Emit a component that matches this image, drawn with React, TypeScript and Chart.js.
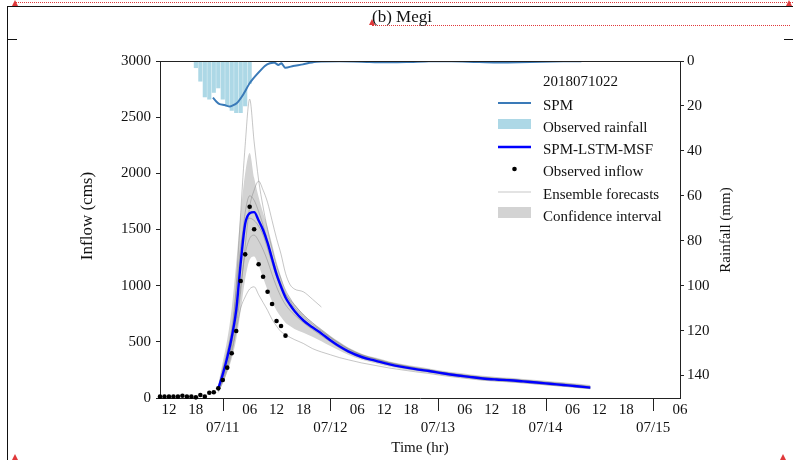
import React, { useEffect, useRef } from "react";
import { Chart, registerables } from "chart.js";

Chart.register(...registerables);

const FONT = '"Liberation Serif", "Times New Roman", Times, serif';

const chartTitle = "(b) Megi";
const legendTitle = "2018071022";
const xAxisTitle = "Time (hr)";
const yAxisTitle = "Inflow (cms)";
const y2AxisTitle = "Rainfall (mm)";

// hours counted from 07/10 00:00
const xTickHours = [12, 18, 24, 30, 36, 42, 48, 54, 60, 66, 72, 78, 84, 90, 96, 102, 108, 114, 120, 126];
const dayHours = [24, 48, 72, 96, 120];
const dayLabels = ["07/11", "07/12", "07/13", "07/14", "07/15"];
const inflowTicks = [0, 500, 1000, 1500, 2000, 2500, 3000];
const rainTicks = [0, 20, 40, 60, 80, 100, 120, 140];

const rainHours = [18, 19, 20, 21, 22, 23, 24, 25, 26, 27, 28, 29, 30];
const rainfall = [3, 9, 16, 17, 14, 12, 17, 20, 22, 23, 23, 20, 10];

const spmHours = [21.8, 22.6, 23.3, 24.4, 25.6, 27.1, 28.5, 30, 31.5, 33.4, 34.5, 35.6, 36.4, 37.1, 37.9, 39.7, 41.9, 43.4, 44.9, 50, 55, 60, 65, 70, 75, 80, 85, 90, 95, 100, 104];
const spmValues = [16.3, 18.1, 19.2, 19.6, 20.3, 18.8, 15.1, 9.9, 6.2, 2.2, 1.0, 0.8, 1.8, 1.0, 3.0, 2.2, 1.5, 0.8, 0.3, 0.1, 0.3, 0.6, 0.5, 0.1, 0.1, 0.4, 0.7, 0.6, 0.3, 0.1, 0.1];

const obsHours = [10, 11, 12, 13, 14, 15, 16, 17, 18, 19, 20, 21, 22, 23, 24, 25, 26, 27, 28, 29, 30, 31, 32, 33, 34, 35, 36, 37, 38];
const obsInflow = [12, 12, 12, 12, 12, 20, 12, 12, 6, 27, 12, 47, 51, 86, 160, 270, 398, 596, 1042, 1279, 1703, 1502, 1190, 1080, 946, 837, 685, 641, 555];

const fcHours = [23, 24, 25, 26, 27, 28, 29, 30, 31, 32, 33, 34, 35, 36, 37, 38, 39, 40, 42, 44, 46, 48, 50, 52, 55, 58, 61, 64, 67, 70, 73, 76, 79, 82, 85, 88, 91, 94, 97, 100, 103, 106];
const spmLstm = [86, 210, 360, 540, 780, 1200, 1550, 1645, 1655, 1580, 1495, 1380, 1240, 1100, 990, 895, 830, 775, 690, 630, 575, 514, 460, 415, 365, 333, 302, 277, 257, 240, 220, 203, 188, 174, 165, 158, 148, 138, 127, 116, 105, 92];
const ciUpper = [120, 320, 520, 800, 1200, 1650, 2000, 2180, 1960, 1790, 1650, 1520, 1370, 1210, 1080, 960, 890, 830, 740, 665, 610, 555, 500, 450, 395, 360, 328, 302, 282, 263, 243, 226, 211, 197, 188, 180, 170, 160, 150, 140, 128, 116];
const ciLower = [55, 130, 230, 350, 520, 780, 1060, 1230, 1260, 1180, 1070, 960, 860, 780, 720, 670, 640, 615, 580, 545, 505, 462, 422, 385, 340, 310, 280, 257, 238, 222, 202, 186, 171, 157, 148, 141, 131, 121, 110, 100, 90, 78];

const ens1 = [60, 160, 280, 500, 1000, 1650, 2250, 2660, 2280, 1940, 1700, 1500, 1330, 1180, 1060, 960, 890, 830, 740, 670, 610, 545, 490, 440, 385, 350, 318, 292, 270, 252, 232, 214, 200, 186, 177, 170, 160, 150, 140, 130, 118, 104];
const ens2 = [70, 170, 290, 430, 640, 950, 1350, 1700, 1850, 1930, 1850, 1740, 1580, 1420, 1280, 1110, 1010, 970, 945, 880, 810, null, null, null, null, null, null, null, null, null, null, null, null, null, null, null, null, null, null, null, null, null];
const ens3 = [50, 140, 250, 400, 600, 800, 900, 970, 990, 920, 850, 780, 700, 640, 590, 565, 540, 520, 485, 440, 410, 385, 360, 340, 312, 290, 268, 250, 233, 218, 200, 185, 171, 158, 150, 143, 134, 124, 114, 104, 94, 83];
const ens4 = [80, 230, 390, 580, 860, 1300, 1650, 1800, 1760, 1660, 1540, 1400, 1260, 1130, 1020, 930, 860, 805, 720, 655, 595, 535, 478, 430, 378, 344, 312, 286, 265, 247, 227, 210, 195, 181, 172, 165, 155, 145, 134, 123, 111, 98];
const ens5 = [70, 190, 320, 480, 700, 1000, 1280, 1420, 1450, 1400, 1320, 1220, 1100, 990, 900, 830, 780, 740, 670, 610, 555, 500, 448, 405, 356, 325, 295, 270, 250, 233, 213, 196, 181, 167, 158, 151, 141, 131, 120, 110, 99, 87];
const ens6 = [90, 260, 420, 620, 950, 1350, 1560, 1600, 1580, 1530, 1450, 1330, 1200, 1080, 990, 920, 870, 830, 740, 670, 600, 540, 485, 438, 384, 348, 316, 290, 268, 249, 228, 211, 196, 182, 172, 164, 154, 143, 132, 121, 109, 96];
const ensembles = [ens1, ens2, ens3, ens4, ens5, ens6];

const COLORS = {
  spm: "#3a7ab8",
  rain: "#add8e6",
  lstm: "#0000ff",
  obs: "#000000",
  ens: "rgba(125,125,125,0.55)",
  ci: "#d3d3d3",
  axis: "#222222",
  text: "#111111",
};

const pts = (xs: number[], ys: (number | null)[]) => xs.map((x, i) => ({ x, y: ys[i] }));

const overlayPlugin = {
  id: "overlayPlugin",
  afterDraw(chart: any) {
    const { ctx, chartArea } = chart;
    const { left, right, top, bottom } = chartArea;
    const xs = chart.scales.x;
    ctx.save();
    // top frame line
    ctx.strokeStyle = COLORS.axis;
    ctx.lineWidth = 1;
    ctx.beginPath();
    ctx.moveTo(left, top + 0.5);
    ctx.lineTo(right, top + 0.5);
    ctx.stroke();
    // long day separator ticks
    ctx.beginPath();
    dayHours.forEach((h) => {
      const px = Math.round(xs.getPixelForValue(h)) + 0.5;
      ctx.moveTo(px, bottom);
      ctx.lineTo(px, bottom + 13);
    });
    ctx.stroke();

    // axis titles (rotated, reading bottom to top)
    ctx.fillStyle = COLORS.text;
    ctx.textAlign = "center";
    ctx.textBaseline = "middle";
    ctx.save();
    ctx.translate(88, 216);
    ctx.rotate(-Math.PI / 2);
    ctx.font = `17px ${FONT}`;
    ctx.fillText(yAxisTitle, 0, 0);
    ctx.restore();
    ctx.save();
    ctx.translate(726, 230);
    ctx.rotate(-Math.PI / 2);
    ctx.font = `15px ${FONT}`;
    ctx.fillText(y2AxisTitle, 0, 0);
    ctx.restore();

    // legend
    const mx0 = 498;
    const mx1 = 531;
    const tx = 543;
    const rows = [106, 128, 150, 172, 195, 217];
    ctx.font = `15px ${FONT}`;
    ctx.textAlign = "left";
    ctx.textBaseline = "middle";
    ctx.fillText(legendTitle, tx, 82);
    const labels = ["SPM", "Observed rainfall", "SPM-LSTM-MSF", "Observed inflow", "Ensemble forecasts", "Confidence interval"];
    labels.forEach((l, i) => ctx.fillText(l, tx, rows[i]));
    // markers
    ctx.lineCap = "butt";
    ctx.strokeStyle = COLORS.spm;
    ctx.lineWidth = 2;
    ctx.beginPath();
    ctx.moveTo(mx0, rows[0] - 3);
    ctx.lineTo(mx1, rows[0] - 3);
    ctx.stroke();
    ctx.fillStyle = COLORS.rain;
    ctx.fillRect(mx0, rows[1] - 9, mx1 - mx0, 10);
    ctx.strokeStyle = COLORS.lstm;
    ctx.lineWidth = 2.4;
    ctx.beginPath();
    ctx.moveTo(mx0, rows[2] - 3);
    ctx.lineTo(mx1, rows[2] - 3);
    ctx.stroke();
    ctx.fillStyle = COLORS.obs;
    ctx.beginPath();
    ctx.arc((mx0 + mx1) / 2, rows[3] - 3, 2.3, 0, Math.PI * 2);
    ctx.fill();
    ctx.strokeStyle = COLORS.ens;
    ctx.lineWidth = 0.8;
    ctx.beginPath();
    ctx.moveTo(mx0, rows[4] - 3);
    ctx.lineTo(mx1, rows[4] - 3);
    ctx.stroke();
    ctx.fillStyle = COLORS.ci;
    ctx.fillRect(mx0, rows[5] - 10, mx1 - mx0, 11);
    ctx.restore();
  },
};

export default function App() {
  const canvasRef = useRef<HTMLCanvasElement | null>(null);

  useEffect(() => {
    const canvas = canvasRef.current;
    if (!canvas) return;
    const tickFont = { family: FONT, size: 15 };

    const ensDatasets = ensembles.map((e, i) => ({
      type: "line" as const,
      label: `Ensemble ${i + 1}`,
      data: pts(fcHours, e),
      borderColor: COLORS.ens,
      borderWidth: 0.8,
      pointRadius: 0,
      fill: false,
      cubicInterpolationMode: "monotone" as const,
      spanGaps: false,
      yAxisID: "y",
      order: 4,
    }));

    const chart = new Chart(canvas, {
      type: "line",
      data: {
        datasets: [
          {
            type: "line",
            label: "Observed inflow",
            data: pts(obsHours, obsInflow),
            showLine: false,
            pointRadius: 2.3,
            pointBackgroundColor: COLORS.obs,
            pointBorderWidth: 0,
            borderColor: COLORS.obs,
            yAxisID: "y",
            clip: false,
            order: 0,
          },
          {
            type: "line",
            label: "SPM-LSTM-MSF",
            data: pts(fcHours, spmLstm),
            borderColor: COLORS.lstm,
            borderWidth: 2.4,
            pointRadius: 0,
            fill: false,
            cubicInterpolationMode: "monotone",
            yAxisID: "y",
            order: 1,
          },
          {
            type: "line",
            label: "SPM",
            data: pts(spmHours, spmValues),
            borderColor: COLORS.spm,
            borderWidth: 2,
            pointRadius: 0,
            fill: false,
            tension: 0.2,
            yAxisID: "y2",
            order: 2,
          },
          {
            type: "bar",
            label: "Observed rainfall",
            data: pts(rainHours, rainfall),
            backgroundColor: COLORS.rain,
            borderWidth: 0,
            barThickness: 3.5,
            yAxisID: "y2",
            order: 3,
          },
          ...ensDatasets,
          {
            type: "line",
            label: "CI lower",
            data: pts(fcHours, ciLower),
            borderWidth: 0,
            borderColor: "rgba(0,0,0,0)",
            pointRadius: 0,
            fill: false,
            cubicInterpolationMode: "monotone",
            yAxisID: "y",
            order: 6,
          },
          {
            type: "line",
            label: "Confidence interval",
            data: pts(fcHours, ciUpper),
            borderWidth: 0,
            borderColor: "rgba(0,0,0,0)",
            backgroundColor: COLORS.ci,
            pointRadius: 0,
            fill: "-1",
            cubicInterpolationMode: "monotone",
            yAxisID: "y",
            order: 5,
          },
        ] as any,
      },
      options: {
        responsive: false,
        animation: false,
        devicePixelRatio: 1,
        layout: { padding: { left: 78, top: 61, right: 0, bottom: 0 } },
        plugins: {
          legend: { display: false },
          tooltip: { enabled: false },
          title: { display: false },
        },
        scales: {
          x: {
            type: "linear",
            min: 10,
            max: 126,
            offset: false,
            afterBuildTicks: (s: any) => {
              s.ticks = xTickHours.map((v) => ({ value: v }));
            },
            afterFit: (s: any) => {
              s.height = 62;
            },
            ticks: {
              autoSkip: false,
              maxRotation: 0,
              minRotation: 0,
              padding: 3,
              color: COLORS.text,
              font: { ...tickFont, lineHeight: 1.2 },
              callback: (v: any) => {
                const h = Number(v);
                const hh = h % 24;
                if (hh === 0) {
                  const idx = dayHours.indexOf(h);
                  return ["", idx >= 0 ? dayLabels[idx] : ""];
                }
                return String(hh).padStart(2, "0");
              },
            },
            grid: { display: true, drawOnChartArea: false, drawTicks: false, offset: false },
            border: { display: true, color: COLORS.axis, width: 1 },
            title: {
              display: true,
              text: xAxisTitle,
              color: COLORS.text,
              font: { family: FONT, size: 15 },
              padding: { top: 0, bottom: 3 },
            },
          },
          y: {
            type: "linear",
            position: "left",
            min: 0,
            max: 3000,
            afterBuildTicks: (s: any) => {
              s.ticks = inflowTicks.map((v) => ({ value: v }));
            },
            afterFit: (s: any) => {
              s.width = 82;
            },
            ticks: { padding: 5, color: COLORS.text, font: tickFont, callback: (v: any) => String(v) },
            grid: { display: true, drawOnChartArea: false, drawTicks: true, tickLength: 4, color: COLORS.axis },
            border: { display: true, color: COLORS.axis, width: 1 },
          },
          y2: {
            type: "linear",
            position: "right",
            min: 0,
            max: 150,
            reverse: true,
            afterBuildTicks: (s: any) => {
              s.ticks = rainTicks.map((v) => ({ value: v }));
            },
            afterFit: (s: any) => {
              s.width = 113;
            },
            ticks: { padding: 3, color: COLORS.text, font: tickFont, callback: (v: any) => String(v) },
            grid: { display: true, drawOnChartArea: false, drawTicks: true, tickLength: 4, color: COLORS.axis },
            border: { display: true, color: COLORS.axis, width: 1 },
          },
        },
      } as any,
      plugins: [overlayPlugin],
    });
    return () => chart.destroy();
  }, []);

  const red = "#e0383a";
  const tri = (left: number, top: number) => (
    <div
      style={{
        position: "absolute",
        left,
        top,
        width: 0,
        height: 0,
        borderLeft: "3px solid transparent",
        borderRight: "3px solid transparent",
        borderBottom: `6px solid ${red}`,
      }}
    />
  );

  return (
    <div style={{ position: "fixed", left: 0, top: 0, width: 793, height: 460, background: "#fff", overflow: "hidden" }}>
      <canvas ref={canvasRef} width={793} height={460} style={{ position: "absolute", left: 0, top: 0 }} />
      {/* document frame artifacts */}
      <div style={{ position: "absolute", left: 15, top: 2, width: 778, borderTop: `1px dotted ${red}` }} />
      <div style={{ position: "absolute", left: 7, top: 6, width: 786, borderTop: "1px solid #111" }} />
      <div style={{ position: "absolute", left: 7, top: 6, height: 454, borderLeft: "1px solid #111" }} />
      <div style={{ position: "absolute", left: 7, top: 39, width: 10, borderTop: "1px solid #111" }} />
      <div style={{ position: "absolute", left: 784, top: 39, width: 9, borderTop: "1px solid #111" }} />
      <div style={{ position: "absolute", left: 372, top: 25, width: 418, borderTop: `1px dotted ${red}` }} />
      {tri(12, 0)}
      {tri(786, 0)}
      {tri(369, 19)}
      {tri(12, 454)}
      {tri(780, 454)}
      <div
        style={{
          position: "absolute",
          left: 372,
          top: 8,
          fontFamily: FONT,
          fontSize: 17,
          lineHeight: "18px",
          color: "#111",
          whiteSpace: "nowrap",
        }}
      >
        {chartTitle}
      </div>
    </div>
  );
}
